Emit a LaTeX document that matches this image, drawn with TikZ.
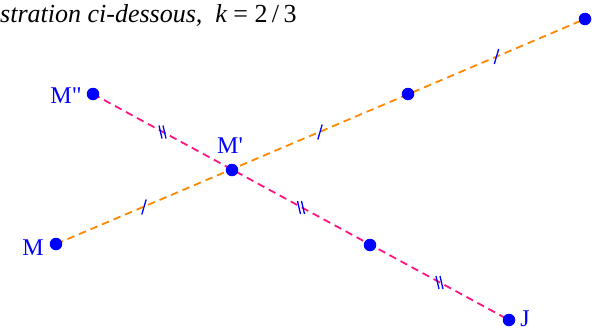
\documentclass[tikz,border=0pt]{standalone}
\usepackage{fontspec}
\setmainfont{Liberation Serif}
\newfontfamily\lblfont{Liberation Serif}
\usetikzlibrary{calc}
\begin{document}
\begin{tikzpicture}[x=1pt,y=-1pt,
  pt/.style={circle,fill=blue,inner sep=0pt,minimum size=12.5pt},
  lbl/.style={text=blue,font=\lblfont\fontsize{24}{26}\selectfont,inner sep=0pt},
  orangeline/.style={draw={rgb,255:red,255;green,136;blue,0},line width=1.8pt,dash pattern=on 7.5pt off 5pt},
  pinkline/.style={draw={rgb,255:red,255;green,20;blue,130},line width=1.8pt,dash pattern=on 7.5pt off 5pt},
  tick/.style={draw=blue,line width=1.3pt}]
\useasboundingbox (0,0) rectangle (592,330);
% points
\coordinate (M) at (56,244);
\coordinate (Mp) at (232,170);
\coordinate (P) at (408,94);
\coordinate (Q) at (585,19);
\coordinate (Mpp) at (93,94);
\coordinate (R) at (370,245);
\coordinate (J) at (509,320);
% lines
\draw[orangeline] (M) -- (Q);
\draw[pinkline] (Mpp) -- (J);
% single ticks on orange line
\foreach \a/\b in {M/Mp,Mp/P,P/Q}{
  \draw[tick] ($(\a)!0.5!(\b)+(-2.2,7.5)$) -- ($(\a)!0.5!(\b)+(2.2,-7.5)$);
}
% double ticks on pink line
\foreach \a/\b in {Mpp/Mp,Mp/R,R/J}{
  \draw[tick] ($(\a)!0.5!(\b)+(-3.5,-6.5)$) -- ($(\a)!0.5!(\b)+(-0.5,6.5)$);
  \draw[tick] ($(\a)!0.5!(\b)+(0.5,-6.5)$) -- ($(\a)!0.5!(\b)+(3.5,6.5)$);
}
% dots
\foreach \p in {M,Mp,P,Q,Mpp,R,J}{ \node[pt] (d\p) at (\p) {}; }
% labels
\node[lbl,anchor=base] (lM) at (33,255) {M};
\node[lbl,anchor=base] (lMpp) at (66,103) {M"};
\node[lbl,anchor=base] (lMp) at (230,153) {M'};
\node[lbl,anchor=base] (lJ) at (525,326) {J};
% title
\node[anchor=base west,inner sep=0pt,font=\fontsize{26}{28}\selectfont] (title) at (0,22) {\itshape stration ci-dessous,\ \ k\ \upshape= 2\,/\,3};
\end{tikzpicture}
\end{document}
